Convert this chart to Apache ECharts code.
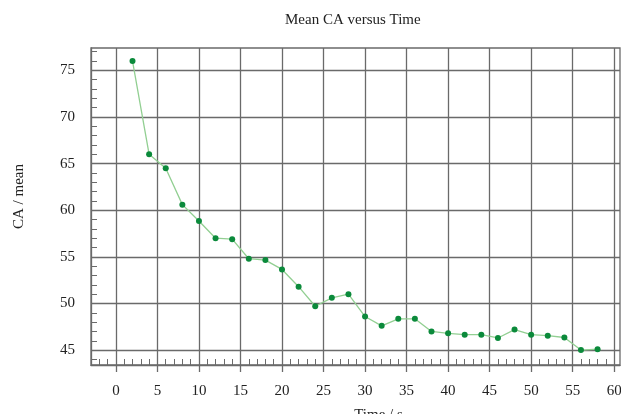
<!DOCTYPE html>
<html>
<head>
<meta charset="utf-8">
<script src="https://cdn.jsdelivr.net/npm/echarts@6/dist/echarts.min.js"></script>
<style>html,body{margin:0;padding:0;background:#fff}#c{width:621px;height:414px}</style>
</head>
<body>
<div id="c"></div>
<script>
const times = [2,4,6,8,10,12,14,16,18,20,22,24,26,28,30,32,34,36,38,40,42,44,46,48,50,52,54,56,58];
const caMean = [76.0,66.0,64.5,60.6,58.85,57.0,56.9,54.8,54.65,53.65,51.8,49.7,50.6,51.0,48.6,47.6,48.35,48.35,47.0,46.8,46.65,46.65,46.3,47.2,46.65,46.55,46.35,45.0,45.1];
const xMajorTicks = [0,5,10,15,20,25,30,35,40,45,50,55,60];
const yMajorTicks = [45,50,55,60,65,70,75];
const xMinorTicks = [];
for (let v = -2; v <= 60; v++) if (v % 5 !== 0) xMinorTicks.push(v);
const yMinorTicks = [];
for (let v = 44; v <= 77; v++) if (v % 5 !== 0) yMinorTicks.push(v);

const FONT = 'Liberation Serif';
const GRID = '#6a6a6a';
const chart = echarts.init(document.getElementById('c'), null, {renderer: 'canvas'});
chart.setOption({
  animation: false,
  backgroundColor: '#fff',
  title: {
    text: 'Mean CA versus Time', left: 280, top: 8,
    textStyle: {fontFamily: FONT, fontSize: 15, fontWeight: 'normal', color: '#222'}
  },
  grid: {left: 91, top: 48, right: 1, bottom: 49, outerBoundsMode: 'none', containLabel: false,
         show: true, borderColor: GRID, borderWidth: 1.3, backgroundColor: 'transparent'},
  xAxis: [{
    type: 'value', min: -3, max: 60.7,
    name: 'Time / s', nameLocation: 'middle', nameGap: 43,
    nameTextStyle: {fontFamily: FONT, fontSize: 15, color: '#222', padding: [0,0,0,46]},
    axisLine: {show: true, onZero: false, lineStyle: {color: GRID, width: 1.3}},
    axisTick: {show: true, customValues: xMajorTicks, length: 7, lineStyle: {color: GRID, width: 1.3}},
    axisLabel: {customValues: xMajorTicks, margin: 19, fontFamily: FONT, fontSize: 15, color: '#222'},
    splitLine: {show: true, lineStyle: {color: GRID, width: 1.3}}
  }, {
    type: 'value', min: -3, max: 60.7, position: 'bottom', offset: 0,
    axisLine: {show: false, onZero: false},
    axisTick: {show: true, inside: true, customValues: xMinorTicks, length: 6, lineStyle: {color: GRID, width: 1}},
    axisLabel: {show: false},
    splitLine: {show: false}
  }],
  yAxis: [{
    type: 'value', min: 43.4, max: 77.4,
    name: 'CA / mean', nameLocation: 'middle', nameGap: 64, nameRotate: 90,
    nameTextStyle: {fontFamily: FONT, fontSize: 15, color: '#222', padding: [0,0,0,20]},
    axisLine: {show: true, onZero: false, lineStyle: {color: GRID, width: 1.3}},
    axisTick: {show: false, customValues: yMajorTicks},
    axisLabel: {customValues: yMajorTicks, margin: 16, fontFamily: FONT, fontSize: 15, color: '#222'},
    splitLine: {show: true, lineStyle: {color: GRID, width: 1.3}}
  }, {
    type: 'value', min: 43.4, max: 77.4, position: 'left', offset: 0,
    axisLine: {show: false, onZero: false},
    axisTick: {show: true, inside: true, customValues: yMinorTicks, length: 6, lineStyle: {color: GRID, width: 1}},
    axisLabel: {show: false},
    splitLine: {show: false}
  }],
  series: [{
    type: 'line',
    xAxisIndex: 0, yAxisIndex: 0,
    data: times.map((t, i) => [t, caMean[i]]),
    symbol: 'circle', symbolSize: 6,
    lineStyle: {color: '#92cf92', width: 1.3},
    itemStyle: {color: '#0b8a3b'}
  }]
});
</script>
</body>
</html>
